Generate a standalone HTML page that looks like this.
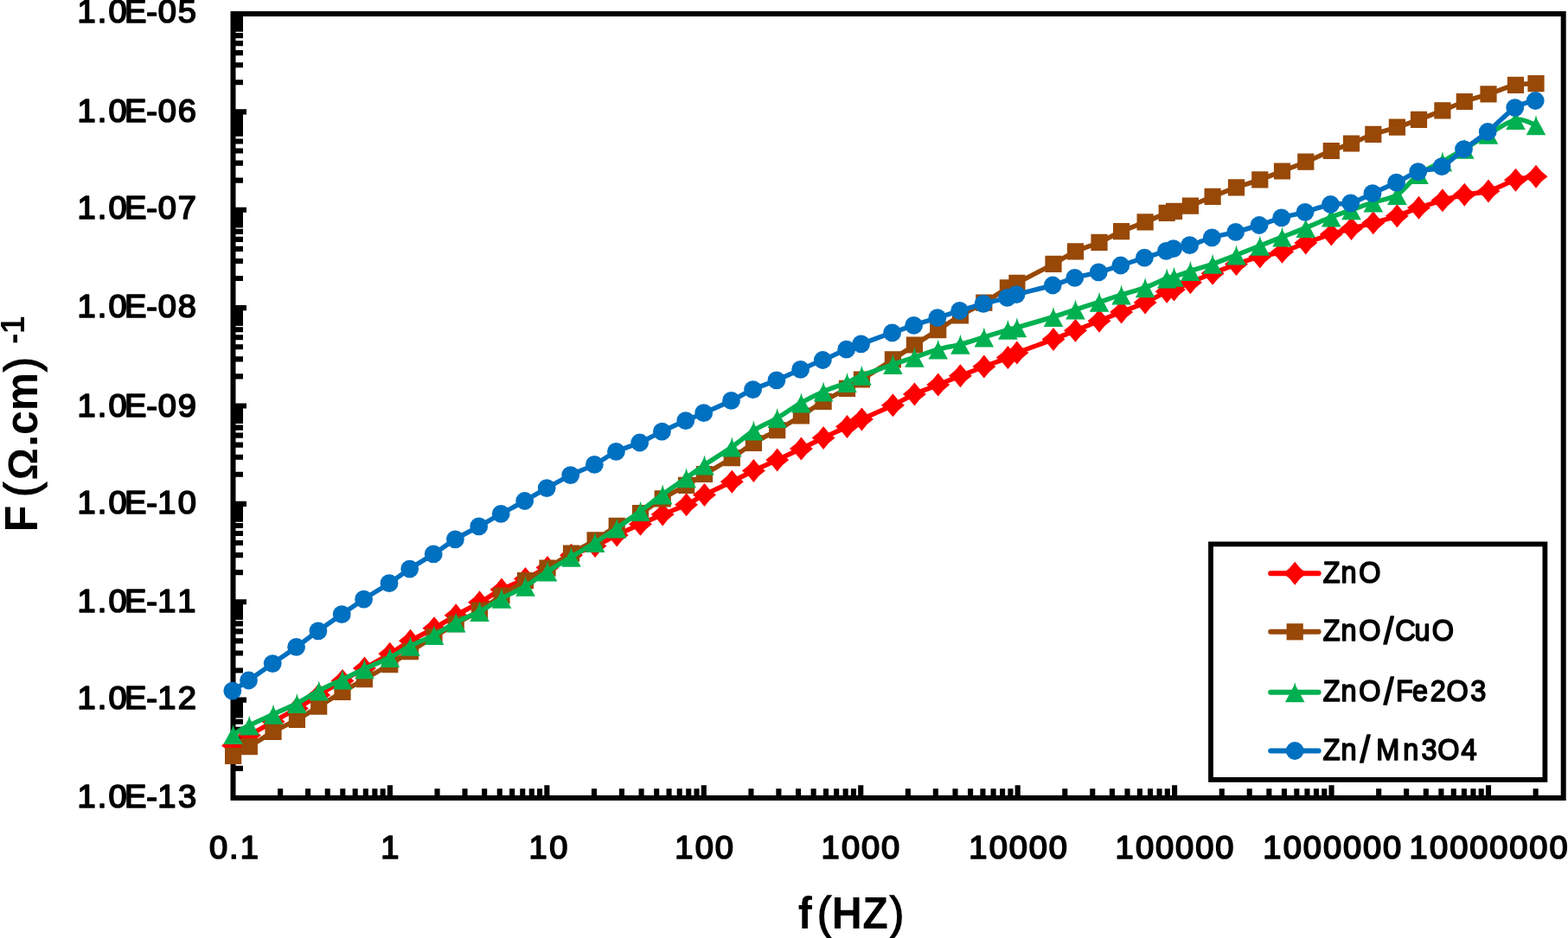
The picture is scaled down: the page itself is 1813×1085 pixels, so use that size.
<!DOCTYPE html>
<html lang="en"><head><meta charset="utf-8"><title>Conductivity vs frequency</title>
<style>
html,body{margin:0;padding:0;background:#fff;}
body{width:1813px;height:1085px;}
svg{display:block;}
text{font-family:"Liberation Sans",sans-serif;font-weight:bold;fill:#000;white-space:pre;}
.lg{font-weight:normal;stroke:#000;stroke-width:1.7px;stroke-linejoin:round;}
.tk{font-weight:normal;stroke:#000;stroke-width:1.7px;stroke-linejoin:round;}
</style></head><body>
<svg width="1813" height="1085" viewBox="0 0 1813 1085">
<rect x="0" y="0" width="1813" height="1085" fill="#fff"/>
<path d="M269.5 888.87H281M269.5 868.91H281M269.5 854.74H281M269.5 843.75H281M269.5 834.78H281M269.5 827.19H281M269.5 820.61H281M269.5 814.81H281M269.5 809.62H285M269.5 775.5H281M269.5 755.53H281M269.5 741.37H281M269.5 730.38H281M269.5 721.4H281M269.5 713.81H281M269.5 707.24H281M269.5 701.44H281M269.5 696.25H285M269.5 662.12H281M269.5 642.16H281M269.5 627.99H281M269.5 617H281M269.5 608.03H281M269.5 600.44H281M269.5 593.86H281M269.5 588.06H281M269.5 582.88H285M269.5 548.75H281M269.5 528.78H281M269.5 514.62H281M269.5 503.63H281M269.5 494.65H281M269.5 487.06H281M269.5 480.49H281M269.5 474.69H281M269.5 469.5H285M269.5 435.37H281M269.5 415.41H281M269.5 401.24H281M269.5 390.25H281M269.5 381.28H281M269.5 373.69H281M269.5 367.11H281M269.5 361.31H281M269.5 356.12H285M269.5 322H281M269.5 302.03H281M269.5 287.87H281M269.5 276.88H281M269.5 267.9H281M269.5 260.31H281M269.5 253.74H281M269.5 247.94H281M269.5 242.75H285M269.5 208.62H281M269.5 188.66H281M269.5 174.49H281M269.5 163.5H281M269.5 154.53H281M269.5 146.94H281M269.5 140.36H281M269.5 134.56H281M269.5 129.38H285M269.5 95.25H281M269.5 75.28H281M269.5 61.12H281M269.5 50.13H281M269.5 41.15H281M269.5 33.56H281M269.5 26.99H281M269.5 21.19H281M324.12 923V912.3M356.07 923V912.3M378.74 923V912.3M396.32 923V912.3M410.69 923V912.3M422.83 923V912.3M433.35 923V912.3M442.64 923V912.3M450.94 923V908.3M505.56 923V912.3M537.51 923V912.3M560.17 923V912.3M577.76 923V912.3M592.12 923V912.3M604.27 923V912.3M614.79 923V912.3M624.07 923V912.3M632.38 923V908.3M686.99 923V912.3M718.94 923V912.3M741.61 923V912.3M759.19 923V912.3M773.56 923V912.3M785.71 923V912.3M796.23 923V912.3M805.51 923V912.3M813.81 923V908.3M868.43 923V912.3M900.38 923V912.3M923.05 923V912.3M940.63 923V912.3M955 923V912.3M967.14 923V912.3M977.67 923V912.3M986.95 923V912.3M995.25 923V908.3M1049.87 923V912.3M1081.82 923V912.3M1104.49 923V912.3M1122.07 923V912.3M1136.44 923V912.3M1148.58 923V912.3M1159.1 923V912.3M1168.39 923V912.3M1176.69 923V908.3M1231.31 923V912.3M1263.26 923V912.3M1285.92 923V912.3M1303.51 923V912.3M1317.87 923V912.3M1330.02 923V912.3M1340.54 923V912.3M1349.82 923V912.3M1358.12 923V908.3M1412.74 923V912.3M1444.69 923V912.3M1467.36 923V912.3M1484.94 923V912.3M1499.31 923V912.3M1511.46 923V912.3M1521.98 923V912.3M1531.26 923V912.3M1539.56 923V908.3M1594.18 923V912.3M1626.13 923V912.3M1648.8 923V912.3M1666.38 923V912.3M1680.75 923V912.3M1692.89 923V912.3M1703.42 923V912.3M1712.7 923V912.3M1721 923V908.3M1775.62 923V912.3" stroke="#000" stroke-width="6.1" fill="none"/>
<path d="M269.5 809.62H281V830.19H269.5zM269.5 696.25H281V716.81H269.5zM269.5 582.88H281V603.44H269.5zM269.5 469.5H281V490.06H269.5zM269.5 356.12H281V376.69H269.5zM269.5 242.75H281V263.31H269.5zM269.5 129.38H281V157.53H269.5zM269.5 16H281V36.56H269.5z" fill="#000"/>
<rect x="269.5" y="16" width="1538.2" height="907" fill="none" stroke="#000" stroke-width="6"/>
<path d="M269.6 862.4C272.72 860.42 280.57 855.12 288.3 850.5C296.03 845.88 306.82 839.87 316 834.7C325.18 829.53 334.62 824.63 343.4 819.5C352.18 814.37 359.93 809.25 368.7 803.9C377.47 798.55 387.22 792.53 396 787.4C404.78 782.27 412.27 778.28 421.4 773.1C430.53 767.92 441.95 761.6 450.8 756.3C459.65 751 465.97 746.23 474.5 741.3C483.03 736.37 493.22 731.62 502 726.7C510.78 721.78 518.45 716.78 527.2 711.8C535.95 706.82 545.7 701.77 554.5 696.8C563.3 691.83 571.17 686.53 580 682C588.83 677.47 598.67 673.85 607.5 669.6C616.33 665.35 624.17 661.07 633 656.5C641.83 651.93 651.32 646.37 660.5 642.2C669.68 638.03 679.32 635.37 688.1 631.5C696.88 627.63 704.47 623.2 713.2 619C721.93 614.8 731.67 610.3 740.5 606.3C749.33 602.3 757.35 598.75 766.2 595C775.05 591.25 785.55 587.57 793.6 583.8C801.65 580.03 805.72 576.83 814.5 572.4C823.28 567.97 836.82 561.85 846.3 557.2C855.78 552.55 862.67 548.7 871.4 544.5C880.13 540.3 889.53 536.23 898.7 532C907.87 527.77 917.5 523.35 926.4 519.1C935.3 514.85 943.25 510.77 952.1 506.5C960.95 502.23 972.12 497.1 979.5 493.5C986.88 489.9 987.58 489.02 996.4 484.9C1005.22 480.78 1022.23 473.63 1032.4 468.8C1042.57 463.97 1048.68 459.85 1057.4 455.9C1066.12 451.95 1075.87 448.63 1084.7 445.1C1093.53 441.57 1101.55 438.2 1110.4 434.7C1119.25 431.2 1128.63 427.62 1137.8 424.1C1146.97 420.58 1159.05 416.27 1165.4 413.6C1171.75 410.93 1167.13 411.62 1175.9 408.1C1184.67 404.58 1206.73 396.8 1218 392.5C1229.27 388.2 1234.67 385.85 1243.5 382.3C1252.33 378.75 1262.15 374.77 1271 371.2C1279.85 367.63 1287.75 364.45 1296.6 360.9C1305.45 357.35 1315.33 353.85 1324.1 349.9C1332.87 345.95 1343.63 339.68 1349.2 337.2C1354.77 334.72 1352.97 336.75 1357.5 335C1362.03 333.25 1368.97 329.82 1376.4 326.7C1383.83 323.58 1393.25 319.82 1402.1 316.3C1410.95 312.78 1420.38 308.83 1429.5 305.6C1438.62 302.37 1447.97 299.28 1456.8 296.9C1465.63 294.52 1473.67 293.95 1482.5 291.3C1491.33 288.65 1500.33 284.38 1509.8 281C1519.27 277.62 1530.52 273.77 1539.3 271C1548.08 268.23 1554.42 266.6 1562.5 264.4C1570.58 262.2 1578.98 260.23 1587.8 257.8C1596.62 255.37 1606.62 252.72 1615.4 249.8C1624.18 246.88 1631.75 243.3 1640.5 240.3C1649.25 237.3 1659.1 234.32 1667.9 231.8C1676.7 229.28 1684.45 227 1693.3 225.2C1702.15 223.4 1711.13 223.83 1721 221C1730.87 218.17 1743.33 211 1752.5 208.2C1761.67 205.4 1772.08 204.87 1776 204.2" fill="none" stroke="#FF0000" stroke-width="5.5" stroke-linejoin="round" stroke-linecap="round"/>
<path d="M269.6 848.9L275.7 856.3L283.1 862.4L275.7 868.5L269.6 875.9L263.5 868.5L256.1 862.4L263.5 856.3zM288.3 837L294.4 844.4L301.8 850.5L294.4 856.6L288.3 864L282.2 856.6L274.8 850.5L282.2 844.4zM316 821.2L322.1 828.6L329.5 834.7L322.1 840.8L316 848.2L309.9 840.8L302.5 834.7L309.9 828.6zM343.4 806L349.5 813.4L356.9 819.5L349.5 825.6L343.4 833L337.3 825.6L329.9 819.5L337.3 813.4zM368.7 790.4L374.8 797.8L382.2 803.9L374.8 810L368.7 817.4L362.6 810L355.2 803.9L362.6 797.8zM396 773.9L402.1 781.3L409.5 787.4L402.1 793.5L396 800.9L389.9 793.5L382.5 787.4L389.9 781.3zM421.4 759.6L427.5 767L434.9 773.1L427.5 779.2L421.4 786.6L415.3 779.2L407.9 773.1L415.3 767zM450.8 742.8L456.9 750.2L464.3 756.3L456.9 762.4L450.8 769.8L444.7 762.4L437.3 756.3L444.7 750.2zM474.5 727.8L480.6 735.2L488 741.3L480.6 747.4L474.5 754.8L468.4 747.4L461 741.3L468.4 735.2zM502 713.2L508.1 720.6L515.5 726.7L508.1 732.8L502 740.2L495.9 732.8L488.5 726.7L495.9 720.6zM527.2 698.3L533.3 705.7L540.7 711.8L533.3 717.9L527.2 725.3L521.1 717.9L513.7 711.8L521.1 705.7zM554.5 683.3L560.6 690.7L568 696.8L560.6 702.9L554.5 710.3L548.4 702.9L541 696.8L548.4 690.7zM580 668.5L586.1 675.9L593.5 682L586.1 688.1L580 695.5L573.9 688.1L566.5 682L573.9 675.9zM607.5 656.1L613.6 663.5L621 669.6L613.6 675.7L607.5 683.1L601.4 675.7L594 669.6L601.4 663.5zM633 643L639.1 650.4L646.5 656.5L639.1 662.6L633 670L626.9 662.6L619.5 656.5L626.9 650.4zM660.5 628.7L666.6 636.1L674 642.2L666.6 648.3L660.5 655.7L654.4 648.3L647 642.2L654.4 636.1zM688.1 618L694.2 625.4L701.6 631.5L694.2 637.6L688.1 645L682 637.6L674.6 631.5L682 625.4zM713.2 605.5L719.3 612.9L726.7 619L719.3 625.1L713.2 632.5L707.1 625.1L699.7 619L707.1 612.9zM740.5 592.8L746.6 600.2L754 606.3L746.6 612.4L740.5 619.8L734.4 612.4L727 606.3L734.4 600.2zM766.2 581.5L772.3 588.9L779.7 595L772.3 601.1L766.2 608.5L760.1 601.1L752.7 595L760.1 588.9zM793.6 570.3L799.7 577.7L807.1 583.8L799.7 589.9L793.6 597.3L787.5 589.9L780.1 583.8L787.5 577.7zM814.5 558.9L820.6 566.3L828 572.4L820.6 578.5L814.5 585.9L808.4 578.5L801 572.4L808.4 566.3zM846.3 543.7L852.4 551.1L859.8 557.2L852.4 563.3L846.3 570.7L840.2 563.3L832.8 557.2L840.2 551.1zM871.4 531L877.5 538.4L884.9 544.5L877.5 550.6L871.4 558L865.3 550.6L857.9 544.5L865.3 538.4zM898.7 518.5L904.8 525.9L912.2 532L904.8 538.1L898.7 545.5L892.6 538.1L885.2 532L892.6 525.9zM926.4 505.6L932.5 513L939.9 519.1L932.5 525.2L926.4 532.6L920.3 525.2L912.9 519.1L920.3 513zM952.1 493L958.2 500.4L965.6 506.5L958.2 512.6L952.1 520L946 512.6L938.6 506.5L946 500.4zM979.5 480L985.6 487.4L993 493.5L985.6 499.6L979.5 507L973.4 499.6L966 493.5L973.4 487.4zM996.4 471.4L1002.5 478.8L1009.9 484.9L1002.5 491L996.4 498.4L990.3 491L982.9 484.9L990.3 478.8zM1032.4 455.3L1038.5 462.7L1045.9 468.8L1038.5 474.9L1032.4 482.3L1026.3 474.9L1018.9 468.8L1026.3 462.7zM1057.4 442.4L1063.5 449.8L1070.9 455.9L1063.5 462L1057.4 469.4L1051.3 462L1043.9 455.9L1051.3 449.8zM1084.7 431.6L1090.8 439L1098.2 445.1L1090.8 451.2L1084.7 458.6L1078.6 451.2L1071.2 445.1L1078.6 439zM1110.4 421.2L1116.5 428.6L1123.9 434.7L1116.5 440.8L1110.4 448.2L1104.3 440.8L1096.9 434.7L1104.3 428.6zM1137.8 410.6L1143.9 418L1151.3 424.1L1143.9 430.2L1137.8 437.6L1131.7 430.2L1124.3 424.1L1131.7 418zM1165.4 400.1L1171.5 407.5L1178.9 413.6L1171.5 419.7L1165.4 427.1L1159.3 419.7L1151.9 413.6L1159.3 407.5zM1175.9 394.6L1182 402L1189.4 408.1L1182 414.2L1175.9 421.6L1169.8 414.2L1162.4 408.1L1169.8 402zM1218 379L1224.1 386.4L1231.5 392.5L1224.1 398.6L1218 406L1211.9 398.6L1204.5 392.5L1211.9 386.4zM1243.5 368.8L1249.6 376.2L1257 382.3L1249.6 388.4L1243.5 395.8L1237.4 388.4L1230 382.3L1237.4 376.2zM1271 357.7L1277.1 365.1L1284.5 371.2L1277.1 377.3L1271 384.7L1264.9 377.3L1257.5 371.2L1264.9 365.1zM1296.6 347.4L1302.7 354.8L1310.1 360.9L1302.7 367L1296.6 374.4L1290.5 367L1283.1 360.9L1290.5 354.8zM1324.1 336.4L1330.2 343.8L1337.6 349.9L1330.2 356L1324.1 363.4L1318 356L1310.6 349.9L1318 343.8zM1349.2 323.7L1355.3 331.1L1362.7 337.2L1355.3 343.3L1349.2 350.7L1343.1 343.3L1335.7 337.2L1343.1 331.1zM1357.5 321.5L1363.6 328.9L1371 335L1363.6 341.1L1357.5 348.5L1351.4 341.1L1344 335L1351.4 328.9zM1376.4 313.2L1382.5 320.6L1389.9 326.7L1382.5 332.8L1376.4 340.2L1370.3 332.8L1362.9 326.7L1370.3 320.6zM1402.1 302.8L1408.2 310.2L1415.6 316.3L1408.2 322.4L1402.1 329.8L1396 322.4L1388.6 316.3L1396 310.2zM1429.5 292.1L1435.6 299.5L1443 305.6L1435.6 311.7L1429.5 319.1L1423.4 311.7L1416 305.6L1423.4 299.5zM1456.8 283.4L1462.9 290.8L1470.3 296.9L1462.9 303L1456.8 310.4L1450.7 303L1443.3 296.9L1450.7 290.8zM1482.5 277.8L1488.6 285.2L1496 291.3L1488.6 297.4L1482.5 304.8L1476.4 297.4L1469 291.3L1476.4 285.2zM1509.8 267.5L1515.9 274.9L1523.3 281L1515.9 287.1L1509.8 294.5L1503.7 287.1L1496.3 281L1503.7 274.9zM1539.3 257.5L1545.4 264.9L1552.8 271L1545.4 277.1L1539.3 284.5L1533.2 277.1L1525.8 271L1533.2 264.9zM1562.5 250.9L1568.6 258.3L1576 264.4L1568.6 270.5L1562.5 277.9L1556.4 270.5L1549 264.4L1556.4 258.3zM1587.8 244.3L1593.9 251.7L1601.3 257.8L1593.9 263.9L1587.8 271.3L1581.7 263.9L1574.3 257.8L1581.7 251.7zM1615.4 236.3L1621.5 243.7L1628.9 249.8L1621.5 255.9L1615.4 263.3L1609.3 255.9L1601.9 249.8L1609.3 243.7zM1640.5 226.8L1646.6 234.2L1654 240.3L1646.6 246.4L1640.5 253.8L1634.4 246.4L1627 240.3L1634.4 234.2zM1667.9 218.3L1674 225.7L1681.4 231.8L1674 237.9L1667.9 245.3L1661.8 237.9L1654.4 231.8L1661.8 225.7zM1693.3 211.7L1699.4 219.1L1706.8 225.2L1699.4 231.3L1693.3 238.7L1687.2 231.3L1679.8 225.2L1687.2 219.1zM1721 207.5L1727.1 214.9L1734.5 221L1727.1 227.1L1721 234.5L1714.9 227.1L1707.5 221L1714.9 214.9zM1752.5 194.7L1758.6 202.1L1766 208.2L1758.6 214.3L1752.5 221.7L1746.4 214.3L1739 208.2L1746.4 202.1zM1776 190.7L1782.1 198.1L1789.5 204.2L1782.1 210.3L1776 217.7L1769.9 210.3L1762.5 204.2L1769.9 198.1z" fill="#FF0000"/>
<path d="M269.6 874.4C272.72 872.6 280.57 868.25 288.3 863.6C296.03 858.95 306.82 851.7 316 846.5C325.18 841.3 334.62 837.3 343.4 832.4C352.18 827.5 359.93 822.45 368.7 817.1C377.47 811.75 387.22 805.55 396 800.3C404.78 795.05 412.27 790.87 421.4 785.6C430.53 780.33 441.95 774.02 450.8 768.7C459.65 763.38 465.97 759.07 474.5 753.7C483.03 748.33 493.22 741.85 502 736.5C510.78 731.15 518.45 726.67 527.2 721.6C535.95 716.53 545.7 711.53 554.5 706.1C563.3 700.67 571.17 694.75 580 689C588.83 683.25 598.67 676.9 607.5 671.6C616.33 666.3 624.17 662.43 633 657.2C641.83 651.97 651.32 645.58 660.5 640.2C669.68 634.82 679.32 630.22 688.1 624.9C696.88 619.58 704.47 613.52 713.2 608.3C721.93 603.08 731.67 598.85 740.5 593.6C749.33 588.35 757.35 582.18 766.2 576.8C775.05 571.42 785.55 566.02 793.6 561.3C801.65 556.58 805.72 553.77 814.5 548.5C823.28 543.23 836.82 535.7 846.3 529.7C855.78 523.7 862.67 517.85 871.4 512.5C880.13 507.15 889.53 502.85 898.7 497.6C907.87 492.35 917.5 486.55 926.4 481C935.3 475.45 943.25 469.57 952.1 464.3C960.95 459.03 972.12 453.62 979.5 449.4C986.88 445.18 987.58 444.6 996.4 439C1005.22 433.4 1022.23 422.47 1032.4 415.8C1042.57 409.13 1048.68 404.7 1057.4 399C1066.12 393.3 1075.87 387.27 1084.7 381.6C1093.53 375.93 1101.55 370.25 1110.4 365C1119.25 359.75 1128.63 355.47 1137.8 350.1C1146.97 344.73 1159.05 336.6 1165.4 332.8C1171.75 329 1167.13 331.88 1175.9 327.3C1184.67 322.72 1206.73 311.37 1218 305.3C1229.27 299.23 1234.67 295.05 1243.5 290.9C1252.33 286.75 1262.15 284.27 1271 280.4C1279.85 276.53 1287.75 271.62 1296.6 267.7C1305.45 263.78 1315.33 260.45 1324.1 256.9C1332.87 253.35 1343.63 248.48 1349.2 246.4C1354.77 244.32 1352.97 245.78 1357.5 244.4C1362.03 243.02 1368.97 240.95 1376.4 238.1C1383.83 235.25 1393.25 230.83 1402.1 227.3C1410.95 223.77 1420.38 220.13 1429.5 216.9C1438.62 213.67 1447.97 211.05 1456.8 207.9C1465.63 204.75 1473.67 201.45 1482.5 198C1491.33 194.55 1500.33 191.12 1509.8 187.2C1519.27 183.28 1530.52 178.03 1539.3 174.5C1548.08 170.97 1554.42 169.18 1562.5 166C1570.58 162.82 1578.98 158.55 1587.8 155.4C1596.62 152.25 1606.62 149.95 1615.4 147.1C1624.18 144.25 1631.75 141.5 1640.5 138.3C1649.25 135.1 1659.1 131.37 1667.9 127.9C1676.7 124.43 1684.45 120.68 1693.3 117.5C1702.15 114.32 1711.13 112 1721 108.8C1730.87 105.6 1743.33 100.33 1752.5 98.3C1761.67 96.27 1772.08 96.88 1776 96.6" fill="none" stroke="#984807" stroke-width="5.5" stroke-linejoin="round" stroke-linecap="round"/>
<path d="M260 864.8L279.2 864.8L279.2 884L260 884zM278.7 854L297.9 854L297.9 873.2L278.7 873.2zM306.4 836.9L325.6 836.9L325.6 856.1L306.4 856.1zM333.8 822.8L353 822.8L353 842L333.8 842zM359.1 807.5L378.3 807.5L378.3 826.7L359.1 826.7zM386.4 790.7L405.6 790.7L405.6 809.9L386.4 809.9zM411.8 776L431 776L431 795.2L411.8 795.2zM441.2 759.1L460.4 759.1L460.4 778.3L441.2 778.3zM464.9 744.1L484.1 744.1L484.1 763.3L464.9 763.3zM492.4 726.9L511.6 726.9L511.6 746.1L492.4 746.1zM517.6 712L536.8 712L536.8 731.2L517.6 731.2zM544.9 696.5L564.1 696.5L564.1 715.7L544.9 715.7zM570.4 679.4L589.6 679.4L589.6 698.6L570.4 698.6zM597.9 662L617.1 662L617.1 681.2L597.9 681.2zM623.4 647.6L642.6 647.6L642.6 666.8L623.4 666.8zM650.9 630.6L670.1 630.6L670.1 649.8L650.9 649.8zM678.5 615.3L697.7 615.3L697.7 634.5L678.5 634.5zM703.6 598.7L722.8 598.7L722.8 617.9L703.6 617.9zM730.9 584L750.1 584L750.1 603.2L730.9 603.2zM756.6 567.2L775.8 567.2L775.8 586.4L756.6 586.4zM784 551.7L803.2 551.7L803.2 570.9L784 570.9zM804.9 538.9L824.1 538.9L824.1 558.1L804.9 558.1zM836.7 520.1L855.9 520.1L855.9 539.3L836.7 539.3zM861.8 502.9L881 502.9L881 522.1L861.8 522.1zM889.1 488L908.3 488L908.3 507.2L889.1 507.2zM916.8 471.4L936 471.4L936 490.6L916.8 490.6zM942.5 454.7L961.7 454.7L961.7 473.9L942.5 473.9zM969.9 439.8L989.1 439.8L989.1 459L969.9 459zM986.8 429.4L1006 429.4L1006 448.6L986.8 448.6zM1022.8 406.2L1042 406.2L1042 425.4L1022.8 425.4zM1047.8 389.4L1067 389.4L1067 408.6L1047.8 408.6zM1075.1 372L1094.3 372L1094.3 391.2L1075.1 391.2zM1100.8 355.4L1120 355.4L1120 374.6L1100.8 374.6zM1128.2 340.5L1147.4 340.5L1147.4 359.7L1128.2 359.7zM1155.8 323.2L1175 323.2L1175 342.4L1155.8 342.4zM1166.3 317.7L1185.5 317.7L1185.5 336.9L1166.3 336.9zM1208.4 295.7L1227.6 295.7L1227.6 314.9L1208.4 314.9zM1233.9 281.3L1253.1 281.3L1253.1 300.5L1233.9 300.5zM1261.4 270.8L1280.6 270.8L1280.6 290L1261.4 290zM1287 258.1L1306.2 258.1L1306.2 277.3L1287 277.3zM1314.5 247.3L1333.7 247.3L1333.7 266.5L1314.5 266.5zM1339.6 236.8L1358.8 236.8L1358.8 256L1339.6 256zM1347.9 234.8L1367.1 234.8L1367.1 254L1347.9 254zM1366.8 228.5L1386 228.5L1386 247.7L1366.8 247.7zM1392.5 217.7L1411.7 217.7L1411.7 236.9L1392.5 236.9zM1419.9 207.3L1439.1 207.3L1439.1 226.5L1419.9 226.5zM1447.2 198.3L1466.4 198.3L1466.4 217.5L1447.2 217.5zM1472.9 188.4L1492.1 188.4L1492.1 207.6L1472.9 207.6zM1500.2 177.6L1519.4 177.6L1519.4 196.8L1500.2 196.8zM1529.7 164.9L1548.9 164.9L1548.9 184.1L1529.7 184.1zM1552.9 156.4L1572.1 156.4L1572.1 175.6L1552.9 175.6zM1578.2 145.8L1597.4 145.8L1597.4 165L1578.2 165zM1605.8 137.5L1625 137.5L1625 156.7L1605.8 156.7zM1630.9 128.7L1650.1 128.7L1650.1 147.9L1630.9 147.9zM1658.3 118.3L1677.5 118.3L1677.5 137.5L1658.3 137.5zM1683.7 107.9L1702.9 107.9L1702.9 127.1L1683.7 127.1zM1711.4 99.2L1730.6 99.2L1730.6 118.4L1711.4 118.4zM1742.9 88.7L1762.1 88.7L1762.1 107.9L1742.9 107.9zM1766.4 87L1785.6 87L1785.6 106.2L1766.4 106.2z" fill="#984807"/>
<path d="M269.6 849.5C272.72 847.75 280.57 842.88 288.3 839C296.03 835.12 306.82 830.45 316 826.2C325.18 821.95 334.62 818.05 343.4 813.5C352.18 808.95 359.93 803.5 368.7 798.9C377.47 794.3 387.22 790.08 396 785.9C404.78 781.72 412.27 778.03 421.4 773.8C430.53 769.57 441.95 764.92 450.8 760.5C459.65 756.08 465.97 751.63 474.5 747.3C483.03 742.97 493.22 739.07 502 734.5C510.78 729.93 518.45 724.42 527.2 719.9C535.95 715.38 545.7 712.02 554.5 707.4C563.3 702.78 571.17 697.07 580 692.2C588.83 687.33 598.67 683.42 607.5 678.2C616.33 672.98 624.17 666.55 633 660.9C641.83 655.25 651.32 649.87 660.5 644.3C669.68 638.73 679.32 633.03 688.1 627.5C696.88 621.97 704.47 617.15 713.2 611.1C721.93 605.05 731.67 597.73 740.5 591.2C749.33 584.67 757.35 578.3 766.2 571.9C775.05 565.5 785.55 558.47 793.6 552.8C801.65 547.13 805.72 543.87 814.5 537.9C823.28 531.93 836.82 523.65 846.3 517C855.78 510.35 862.67 503.57 871.4 498C880.13 492.43 889.53 488.95 898.7 483.6C907.87 478.25 917.5 471.02 926.4 465.9C935.3 460.78 943.25 456.78 952.1 452.9C960.95 449.02 972.12 445.7 979.5 442.6C986.88 439.5 987.58 437.8 996.4 434.3C1005.22 430.8 1022.23 425.1 1032.4 421.6C1042.57 418.1 1048.68 416.22 1057.4 413.3C1066.12 410.38 1075.87 406.6 1084.7 404.1C1093.53 401.6 1101.55 400.65 1110.4 398.3C1119.25 395.95 1128.63 392.83 1137.8 390C1146.97 387.17 1159.05 383.17 1165.4 381.3C1171.75 379.43 1167.13 381.27 1175.9 378.8C1184.67 376.33 1206.73 369.95 1218 366.5C1229.27 363.05 1234.67 360.97 1243.5 358.1C1252.33 355.23 1262.15 352.15 1271 349.3C1279.85 346.45 1287.75 343.77 1296.6 341C1305.45 338.23 1315.33 335.88 1324.1 332.7C1332.87 329.52 1343.63 323.98 1349.2 321.9C1354.77 319.82 1352.97 321.58 1357.5 320.2C1362.03 318.82 1368.97 316.08 1376.4 313.6C1383.83 311.12 1393.25 308.4 1402.1 305.3C1410.95 302.2 1420.38 298.52 1429.5 295C1438.62 291.48 1447.97 287.68 1456.8 284.2C1465.63 280.72 1473.67 277.53 1482.5 274.1C1491.33 270.67 1500.33 267.43 1509.8 263.6C1519.27 259.77 1530.52 254.57 1539.3 251.1C1548.08 247.63 1554.42 245.65 1562.5 242.8C1570.58 239.95 1578.98 236.9 1587.8 234C1596.62 231.1 1606.62 230.82 1615.4 225.4C1624.18 219.98 1631.75 207.93 1640.5 201.5C1649.25 195.07 1659.1 191.68 1667.9 186.8C1676.7 181.92 1684.45 177.45 1693.3 172.2C1702.15 166.95 1711.13 160.9 1721 155.3C1730.87 149.7 1743.33 140.35 1752.5 138.6C1761.67 136.85 1772.08 143.77 1776 144.8" fill="none" stroke="#00B050" stroke-width="5.5" stroke-linejoin="round" stroke-linecap="round"/>
<path d="M269.6 838L271 842.9L274.7 849.5L280.9 861L258.3 861L264.5 849.5L268.2 842.9zM288.3 827.5L289.7 832.4L293.4 839L299.6 850.5L277 850.5L283.2 839L286.9 832.4zM316 814.7L317.4 819.6L321.1 826.2L327.3 837.7L304.7 837.7L310.9 826.2L314.6 819.6zM343.4 802L344.8 806.9L348.5 813.5L354.7 825L332.1 825L338.3 813.5L342 806.9zM368.7 787.4L370.1 792.3L373.8 798.9L380 810.4L357.4 810.4L363.6 798.9L367.3 792.3zM396 774.4L397.4 779.3L401.1 785.9L407.3 797.4L384.7 797.4L390.9 785.9L394.6 779.3zM421.4 762.3L422.8 767.2L426.5 773.8L432.7 785.3L410.1 785.3L416.3 773.8L420 767.2zM450.8 749L452.2 753.9L455.9 760.5L462.1 772L439.5 772L445.7 760.5L449.4 753.9zM474.5 735.8L475.9 740.7L479.6 747.3L485.8 758.8L463.2 758.8L469.4 747.3L473.1 740.7zM502 723L503.4 727.9L507.1 734.5L513.3 746L490.7 746L496.9 734.5L500.6 727.9zM527.2 708.4L528.6 713.3L532.3 719.9L538.5 731.4L515.9 731.4L522.1 719.9L525.8 713.3zM554.5 695.9L555.9 700.8L559.6 707.4L565.8 718.9L543.2 718.9L549.4 707.4L553.1 700.8zM580 680.7L581.4 685.6L585.1 692.2L591.3 703.7L568.7 703.7L574.9 692.2L578.6 685.6zM607.5 666.7L608.9 671.6L612.6 678.2L618.8 689.7L596.2 689.7L602.4 678.2L606.1 671.6zM633 649.4L634.4 654.3L638.1 660.9L644.3 672.4L621.7 672.4L627.9 660.9L631.6 654.3zM660.5 632.8L661.9 637.7L665.6 644.3L671.8 655.8L649.2 655.8L655.4 644.3L659.1 637.7zM688.1 616L689.5 620.9L693.2 627.5L699.4 639L676.8 639L683 627.5L686.7 620.9zM713.2 599.6L714.6 604.5L718.3 611.1L724.5 622.6L701.9 622.6L708.1 611.1L711.8 604.5zM740.5 579.7L741.9 584.6L745.6 591.2L751.8 602.7L729.2 602.7L735.4 591.2L739.1 584.6zM766.2 560.4L767.6 565.3L771.3 571.9L777.5 583.4L754.9 583.4L761.1 571.9L764.8 565.3zM793.6 541.3L795 546.2L798.7 552.8L804.9 564.3L782.3 564.3L788.5 552.8L792.2 546.2zM814.5 526.4L815.9 531.3L819.6 537.9L825.8 549.4L803.2 549.4L809.4 537.9L813.1 531.3zM846.3 505.5L847.7 510.4L851.4 517L857.6 528.5L835 528.5L841.2 517L844.9 510.4zM871.4 486.5L872.8 491.4L876.5 498L882.7 509.5L860.1 509.5L866.3 498L870 491.4zM898.7 472.1L900.1 477L903.8 483.6L910 495.1L887.4 495.1L893.6 483.6L897.3 477zM926.4 454.4L927.8 459.3L931.5 465.9L937.7 477.4L915.1 477.4L921.3 465.9L925 459.3zM952.1 441.4L953.5 446.3L957.2 452.9L963.4 464.4L940.8 464.4L947 452.9L950.7 446.3zM979.5 431.1L980.9 436L984.6 442.6L990.8 454.1L968.2 454.1L974.4 442.6L978.1 436zM996.4 422.8L997.8 427.7L1001.5 434.3L1007.7 445.8L985.1 445.8L991.3 434.3L995 427.7zM1032.4 410.1L1033.8 415L1037.5 421.6L1043.7 433.1L1021.1 433.1L1027.3 421.6L1031 415zM1057.4 401.8L1058.8 406.7L1062.5 413.3L1068.7 424.8L1046.1 424.8L1052.3 413.3L1056 406.7zM1084.7 392.6L1086.1 397.5L1089.8 404.1L1096 415.6L1073.4 415.6L1079.6 404.1L1083.3 397.5zM1110.4 386.8L1111.8 391.7L1115.5 398.3L1121.7 409.8L1099.1 409.8L1105.3 398.3L1109 391.7zM1137.8 378.5L1139.2 383.4L1142.9 390L1149.1 401.5L1126.5 401.5L1132.7 390L1136.4 383.4zM1165.4 369.8L1166.8 374.7L1170.5 381.3L1176.7 392.8L1154.1 392.8L1160.3 381.3L1164 374.7zM1175.9 367.3L1177.3 372.2L1181 378.8L1187.2 390.3L1164.6 390.3L1170.8 378.8L1174.5 372.2zM1218 355L1219.4 359.9L1223.1 366.5L1229.3 378L1206.7 378L1212.9 366.5L1216.6 359.9zM1243.5 346.6L1244.9 351.5L1248.6 358.1L1254.8 369.6L1232.2 369.6L1238.4 358.1L1242.1 351.5zM1271 337.8L1272.4 342.7L1276.1 349.3L1282.3 360.8L1259.7 360.8L1265.9 349.3L1269.6 342.7zM1296.6 329.5L1298 334.4L1301.7 341L1307.9 352.5L1285.3 352.5L1291.5 341L1295.2 334.4zM1324.1 321.2L1325.5 326.1L1329.2 332.7L1335.4 344.2L1312.8 344.2L1319 332.7L1322.7 326.1zM1349.2 310.4L1350.6 315.3L1354.3 321.9L1360.5 333.4L1337.9 333.4L1344.1 321.9L1347.8 315.3zM1357.5 308.7L1358.9 313.6L1362.6 320.2L1368.8 331.7L1346.2 331.7L1352.4 320.2L1356.1 313.6zM1376.4 302.1L1377.8 307L1381.5 313.6L1387.7 325.1L1365.1 325.1L1371.3 313.6L1375 307zM1402.1 293.8L1403.5 298.7L1407.2 305.3L1413.4 316.8L1390.8 316.8L1397 305.3L1400.7 298.7zM1429.5 283.5L1430.9 288.4L1434.6 295L1440.8 306.5L1418.2 306.5L1424.4 295L1428.1 288.4zM1456.8 272.7L1458.2 277.6L1461.9 284.2L1468.1 295.7L1445.5 295.7L1451.7 284.2L1455.4 277.6zM1482.5 262.6L1483.9 267.5L1487.6 274.1L1493.8 285.6L1471.2 285.6L1477.4 274.1L1481.1 267.5zM1509.8 252.1L1511.2 257L1514.9 263.6L1521.1 275.1L1498.5 275.1L1504.7 263.6L1508.4 257zM1539.3 239.6L1540.7 244.5L1544.4 251.1L1550.6 262.6L1528 262.6L1534.2 251.1L1537.9 244.5zM1562.5 231.3L1563.9 236.2L1567.6 242.8L1573.8 254.3L1551.2 254.3L1557.4 242.8L1561.1 236.2zM1587.8 222.5L1589.2 227.4L1592.9 234L1599.1 245.5L1576.5 245.5L1582.7 234L1586.4 227.4zM1615.4 213.9L1616.8 218.8L1620.5 225.4L1626.7 236.9L1604.1 236.9L1610.3 225.4L1614 218.8zM1640.5 190L1641.9 194.9L1645.6 201.5L1651.8 213L1629.2 213L1635.4 201.5L1639.1 194.9zM1667.9 175.3L1669.3 180.2L1673 186.8L1679.2 198.3L1656.6 198.3L1662.8 186.8L1666.5 180.2zM1693.3 160.7L1694.7 165.6L1698.4 172.2L1704.6 183.7L1682 183.7L1688.2 172.2L1691.9 165.6zM1721 143.8L1722.4 148.7L1726.1 155.3L1732.3 166.8L1709.7 166.8L1715.9 155.3L1719.6 148.7zM1752.5 127.1L1753.9 132L1757.6 138.6L1763.8 150.1L1741.2 150.1L1747.4 138.6L1751.1 132zM1776 133.3L1777.4 138.2L1781.1 144.8L1787.3 156.3L1764.7 156.3L1770.9 144.8L1774.6 138.2z" fill="#00B050"/>
<path d="M268.8 799.1C271.92 797.08 279.77 792.25 287.5 787C295.23 781.75 306.02 774.03 315.2 767.6C324.38 761.17 333.82 754.7 342.6 748.4C351.38 742.1 359.13 736.08 367.9 729.8C376.67 723.52 386.42 716.8 395.2 710.7C403.98 704.6 411.47 699.2 420.6 693.2C429.73 687.2 441.15 680.55 450 674.7C458.85 668.85 465.17 663.73 473.7 658.1C482.23 652.47 492.42 646.62 501.2 640.9C509.98 635.18 517.65 629.13 526.4 623.8C535.15 618.47 544.9 613.8 553.7 608.9C562.5 604 570.37 599.3 579.2 594.4C588.03 589.5 597.87 584.47 606.7 579.5C615.53 574.53 623.37 569.58 632.2 564.6C641.03 559.62 650.52 554.13 659.7 549.6C668.88 545.07 678.52 541.93 687.3 537.4C696.08 532.87 703.67 526.63 712.4 522.4C721.13 518.17 730.87 515.87 739.7 512C748.53 508.13 756.55 503.43 765.4 499.2C774.25 494.97 784.75 490.18 792.8 486.6C800.85 483.02 804.92 481.57 813.7 477.7C822.48 473.83 836.02 467.92 845.5 463.4C854.98 458.88 861.87 454.53 870.6 450.6C879.33 446.67 888.73 443.67 897.9 439.8C907.07 435.93 916.7 431.28 925.6 427.4C934.5 423.52 942.45 420.37 951.3 416.5C960.15 412.63 971.32 407.32 978.7 404.2C986.08 401.08 986.78 401.02 995.6 397.8C1004.42 394.58 1021.43 388.48 1031.6 384.9C1041.77 381.32 1047.88 379.17 1056.6 376.3C1065.32 373.43 1075.07 370.52 1083.9 367.7C1092.73 364.88 1100.75 362.12 1109.6 359.4C1118.45 356.68 1127.83 353.9 1137 351.4C1146.17 348.9 1158.25 346.2 1164.6 344.4C1170.95 342.6 1166.33 343 1175.1 340.6C1183.87 338.2 1205.93 333.2 1217.2 330C1228.47 326.8 1233.87 323.92 1242.7 321.4C1251.53 318.88 1261.35 317.3 1270.2 314.9C1279.05 312.5 1286.95 309.78 1295.8 307C1304.65 304.22 1314.53 300.97 1323.3 298.2C1332.07 295.43 1342.83 292.17 1348.4 290.4C1353.97 288.63 1352.17 288.72 1356.7 287.6C1361.23 286.48 1368.17 285.82 1375.6 283.7C1383.03 281.58 1392.45 277.47 1401.3 274.9C1410.15 272.33 1419.58 270.7 1428.7 268.3C1437.82 265.9 1447.17 263.25 1456 260.5C1464.83 257.75 1472.87 254.33 1481.7 251.8C1490.53 249.27 1499.53 247.85 1509 245.3C1518.47 242.75 1529.72 238.23 1538.5 236.5C1547.28 234.77 1553.62 237.03 1561.7 234.9C1569.78 232.77 1578.18 227.67 1587 223.7C1595.82 219.73 1605.82 215.28 1614.6 211.1C1623.38 206.92 1630.95 201.67 1639.7 198.6C1648.45 195.53 1658.3 197.03 1667.1 192.7C1675.9 188.37 1683.65 179.3 1692.5 172.6C1701.35 165.9 1710.33 160.5 1720.2 152.5C1730.07 144.5 1742.53 130.6 1751.7 124.6C1760.87 118.6 1771.28 117.85 1775.2 116.5" fill="none" stroke="#0070C0" stroke-width="5.5" stroke-linejoin="round" stroke-linecap="round"/>
<g fill="#0070C0"><circle cx="268.8" cy="799.1" r="10.4"/><circle cx="287.5" cy="787" r="10.4"/><circle cx="315.2" cy="767.6" r="10.4"/><circle cx="342.6" cy="748.4" r="10.4"/><circle cx="367.9" cy="729.8" r="10.4"/><circle cx="395.2" cy="710.7" r="10.4"/><circle cx="420.6" cy="693.2" r="10.4"/><circle cx="450" cy="674.7" r="10.4"/><circle cx="473.7" cy="658.1" r="10.4"/><circle cx="501.2" cy="640.9" r="10.4"/><circle cx="526.4" cy="623.8" r="10.4"/><circle cx="553.7" cy="608.9" r="10.4"/><circle cx="579.2" cy="594.4" r="10.4"/><circle cx="606.7" cy="579.5" r="10.4"/><circle cx="632.2" cy="564.6" r="10.4"/><circle cx="659.7" cy="549.6" r="10.4"/><circle cx="687.3" cy="537.4" r="10.4"/><circle cx="712.4" cy="522.4" r="10.4"/><circle cx="739.7" cy="512" r="10.4"/><circle cx="765.4" cy="499.2" r="10.4"/><circle cx="792.8" cy="486.6" r="10.4"/><circle cx="813.7" cy="477.7" r="10.4"/><circle cx="845.5" cy="463.4" r="10.4"/><circle cx="870.6" cy="450.6" r="10.4"/><circle cx="897.9" cy="439.8" r="10.4"/><circle cx="925.6" cy="427.4" r="10.4"/><circle cx="951.3" cy="416.5" r="10.4"/><circle cx="978.7" cy="404.2" r="10.4"/><circle cx="995.6" cy="397.8" r="10.4"/><circle cx="1031.6" cy="384.9" r="10.4"/><circle cx="1056.6" cy="376.3" r="10.4"/><circle cx="1083.9" cy="367.7" r="10.4"/><circle cx="1109.6" cy="359.4" r="10.4"/><circle cx="1137" cy="351.4" r="10.4"/><circle cx="1164.6" cy="344.4" r="10.4"/><circle cx="1175.1" cy="340.6" r="10.4"/><circle cx="1217.2" cy="330" r="10.4"/><circle cx="1242.7" cy="321.4" r="10.4"/><circle cx="1270.2" cy="314.9" r="10.4"/><circle cx="1295.8" cy="307" r="10.4"/><circle cx="1323.3" cy="298.2" r="10.4"/><circle cx="1348.4" cy="290.4" r="10.4"/><circle cx="1356.7" cy="287.6" r="10.4"/><circle cx="1375.6" cy="283.7" r="10.4"/><circle cx="1401.3" cy="274.9" r="10.4"/><circle cx="1428.7" cy="268.3" r="10.4"/><circle cx="1456" cy="260.5" r="10.4"/><circle cx="1481.7" cy="251.8" r="10.4"/><circle cx="1509" cy="245.3" r="10.4"/><circle cx="1538.5" cy="236.5" r="10.4"/><circle cx="1561.7" cy="234.9" r="10.4"/><circle cx="1587" cy="223.7" r="10.4"/><circle cx="1614.6" cy="211.1" r="10.4"/><circle cx="1639.7" cy="198.6" r="10.4"/><circle cx="1667.1" cy="192.7" r="10.4"/><circle cx="1692.5" cy="172.6" r="10.4"/><circle cx="1720.2" cy="152.5" r="10.4"/><circle cx="1751.7" cy="124.6" r="10.4"/><circle cx="1775.2" cy="116.5" r="10.4"/></g>
<rect x="1400" y="629.4" width="386.4" height="272.5" fill="#fff" stroke="#000" stroke-width="5.8"/>
<path d="M1469.2 663.2H1524.6" stroke="#FF0000" stroke-width="6" stroke-linecap="round" fill="none"/>
<path d="M1497.2 649.7L1503.3 657.1L1510.7 663.2L1503.3 669.3L1497.2 676.7L1491.1 669.3L1483.7 663.2L1491.1 657.1z" fill="#FF0000"/>
<text class="lg" font-size="34.9" transform="translate(1539.65 673.8) scale(0.93 1)" x="-10.69 11.56 34.07" y="0">ZnO</text>
<path d="M1469.2 730.8H1524.6" stroke="#984807" stroke-width="6" stroke-linecap="round" fill="none"/>
<path d="M1487.6 721.2L1506.8 721.2L1506.8 740.4L1487.6 740.4z" fill="#984807"/>
<text class="lg" font-size="34.9" transform="translate(1539.65 741.4) scale(0.93 1)"><tspan x="-10.69 11.56 34.07" y="0">ZnO</tspan><tspan x="64.97" y="3.2" font-size="44">/</tspan><tspan x="79.26 102.95 124.93" y="0">CuO</tspan></text>
<path d="M1469.2 800.7H1524.6" stroke="#00B050" stroke-width="6" stroke-linecap="round" fill="none"/>
<path d="M1497.2 789.2L1498.6 794.1L1502.3 800.7L1508.5 812.2L1485.9 812.2L1492.1 800.7L1495.8 794.1z" fill="#00B050"/>
<text class="lg" font-size="34.9" transform="translate(1539.65 811.3) scale(0.93 1)"><tspan x="-10.69 11.56 34.07" y="0">ZnO</tspan><tspan x="64.97" y="3.2" font-size="44">/</tspan><tspan x="79.96 100.32 122.57 142.88 172.66" y="0">Fe2O3</tspan></text>
<path d="M1469.2 868.5H1524.6" stroke="#0070C0" stroke-width="6" stroke-linecap="round" fill="none"/>
<circle cx="1497.2" cy="868.5" r="10.4" fill="#0070C0"/>
<text class="lg" font-size="34.9" transform="translate(1539.65 879.1) scale(0.93 1)"><tspan x="-10.69 11.56" y="0">Zn</tspan><tspan x="35.56" y="3.2" font-size="44">/</tspan><tspan x="55.63 88.82 111.59 131.81 161.26" y="0">Mn3O4</tspan></text>
<text class="tk" font-size="37" transform="translate(100.5 25.9) scale(1.03 1)" x="-10.78 11.91 24.35 42.25 66.86 79.88 102.26" y="0">1.0E-05</text>
<text class="tk" font-size="37" transform="translate(100.5 140.9) scale(1.03 1)" x="-10.78 11.91 24.35 42.25 66.86 79.88 102.12" y="0">1.0E-06</text>
<text class="tk" font-size="37" transform="translate(100.5 253) scale(1.03 1)" x="-10.78 11.91 24.35 42.25 66.86 79.88 102.21" y="0">1.0E-07</text>
<text class="tk" font-size="37" transform="translate(100.5 367.1) scale(1.03 1)" x="-10.78 11.91 24.35 42.25 66.86 79.88 102.26" y="0">1.0E-08</text>
<text class="tk" font-size="37" transform="translate(100.5 481.8) scale(1.03 1)" x="-10.78 11.91 24.35 42.25 66.86 79.88 102.21" y="0">1.0E-09</text>
<text class="tk" font-size="37" transform="translate(100.5 593.6) scale(1.03 1)" x="-10.78 11.91 24.35 42.25 66.86 79.42 102.21" y="0">1.0E-10</text>
<text class="tk" font-size="37" transform="translate(100.5 707.9) scale(1.03 1)" x="-10.78 11.91 24.35 42.25 66.86 79.42 101.75" y="0">1.0E-11</text>
<text class="tk" font-size="37" transform="translate(100.5 820) scale(1.03 1)" x="-10.78 11.91 24.35 42.25 66.86 79.42 102.26" y="0">1.0E-12</text>
<text class="tk" font-size="37" transform="translate(100.5 933.6) scale(1.03 1)" x="-10.78 11.91 24.35 42.25 66.86 79.42 102.35" y="0">1.0E-13</text>
<text class="tk" font-size="37" transform="translate(252.7 993.1) scale(1.03 1)" x="-10.31 11.91 24.37" y="0">0.1</text>
<text class="tk" font-size="37" transform="translate(451.4 993.1) scale(1.03 1)" x="-10.78" y="0">1</text>
<text class="tk" font-size="37" transform="translate(622.5 993.1) scale(1.03 1)" x="-10.78 12.4" y="0">10</text>
<text class="tk" font-size="37" transform="translate(791.3 993.1) scale(1.03 1)" x="-10.78 12.11 34.54" y="0">100</text>
<text class="tk" font-size="37" transform="translate(960.5 993.1) scale(1.03 1)" x="-10.78 12.06 34.44 56.82" y="0">1000</text>
<text class="tk" font-size="37" transform="translate(1131.3 993.1) scale(1.03 1)" x="-10.78 12.06 34.44 56.82 79.2" y="0">10000</text>
<text class="tk" font-size="37" transform="translate(1300.6 993.1) scale(1.03 1)" x="-10.78 12.06 34.44 56.82 79.2 101.58" y="0">100000</text>
<text class="tk" font-size="37" transform="translate(1471.4 993.1) scale(1.03 1)" x="-10.78 12.06 34.44 56.82 79.2 101.58 123.96" y="0">1000000</text>
<text class="tk" font-size="37" transform="translate(1640.7 993.1) scale(1.03 1)" x="-10.78 12.06 34.44 56.82 79.2 101.58 123.96 146.34" y="0">10000000</text>
<text class="ti" font-size="50" transform="translate(931.3 1074) scale(0.97 1.03)"><tspan x="-8.81 -8.81" y="0">f </tspan><tspan x="14.23" y="0" font-size="50" font-weight="normal" stroke="#000" stroke-width="1.5">(</tspan><tspan x="31.32 67.99" y="0">HZ</tspan><tspan x="100.69" y="0" font-size="50" font-weight="normal" stroke="#000" stroke-width="1.5">)</tspan></text>
<text class="ti" font-size="50" transform="translate(42.8 615.3) rotate(-90) scale(1 1.06)">F <tspan font-weight="normal" stroke="#000" stroke-width="1.5" dx="-4">(</tspan><tspan font-size="46" dx="3">Ω</tspan><tspan dx="1.5">.cm</tspan><tspan font-weight="normal" stroke="#000" stroke-width="1.5" dx="1">)</tspan> <tspan font-size="36" dy="-14.3" dx="1.5">-1</tspan></text>
</svg>
</body></html>
